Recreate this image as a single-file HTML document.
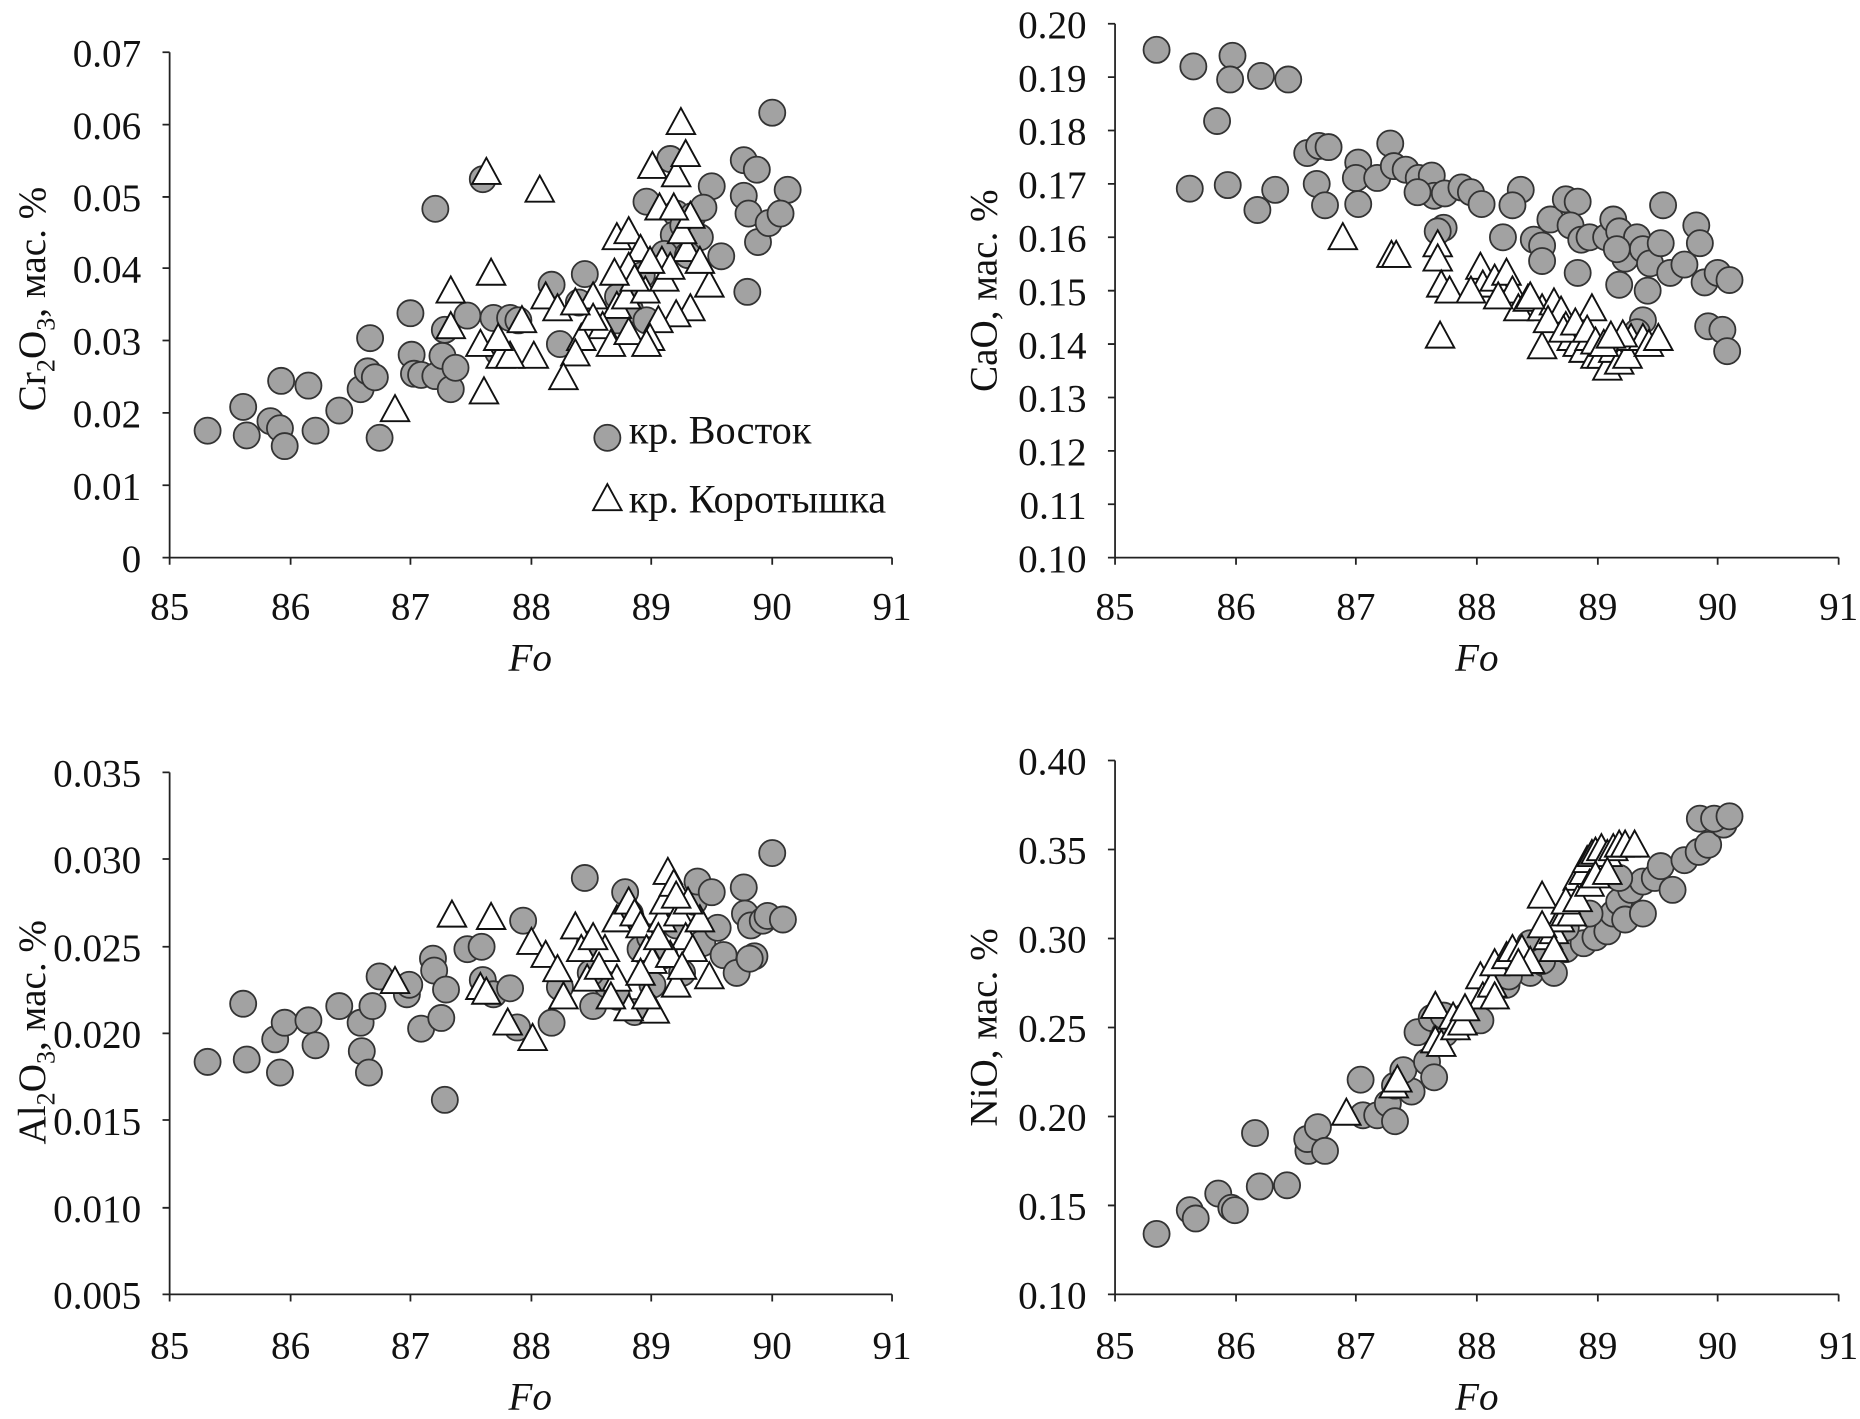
<!DOCTYPE html>
<html><head><meta charset="utf-8"><style>
html,body{margin:0;padding:0;background:#fff}
svg{display:block}
text{font-family:"Liberation Serif",serif;fill:#111}
</style></head><body>
<svg id="s" width="1860" height="1419" viewBox="0 0 1568 1196" preserveAspectRatio="none" xmlns="http://www.w3.org/2000/svg">
<g stroke="#222" stroke-width="1.5" fill="none">
<path d="M143,44V470H752M137,44H143M137,105H143M137,166H143M137,226H143M137,287H143M137,348H143M137,409H143M137,470H143M143,470V476M245,470V476M346,470V476M448,470V476M549,470V476M651,470V476M752,470V476"/>
<path d="M940,20V470H1550M934,20H940M934,65H940M934,110H940M934,155H940M934,200H940M934,245H940M934,290H940M934,335H940M934,380H940M934,425H940M934,470H940M940,470V476M1042,470V476M1143,470V476M1245,470V476M1347,470V476M1448,470V476M1550,470V476"/>
<path d="M143,651V1091H752M137,651H143M137,724H143M137,798H143M137,871H143M137,944H143M137,1018H143M137,1091H143M143,1091V1097M245,1091V1097M346,1091V1097M448,1091V1097M549,1091V1097M651,1091V1097M752,1091V1097"/>
<path d="M940,641V1091H1550M934,641H940M934,716H940M934,791H940M934,866H940M934,941H940M934,1016H940M934,1091H940M940,1091V1097M1042,1091V1097M1143,1091V1097M1245,1091V1097M1347,1091V1097M1448,1091V1097M1550,1091V1097"/>
</g>
<g font-size="33" text-anchor="end">
<text x="119" y="56">0.07</text><text x="119" y="117">0.06</text><text x="119" y="178">0.05</text><text x="119" y="238">0.04</text><text x="119" y="299">0.03</text><text x="119" y="360">0.02</text><text x="119" y="421">0.01</text><text x="119" y="482">0</text>
<text x="916" y="32">0.20</text><text x="916" y="77">0.19</text><text x="916" y="122">0.18</text><text x="916" y="167">0.17</text><text x="916" y="212">0.16</text><text x="916" y="257">0.15</text><text x="916" y="302">0.14</text><text x="916" y="347">0.13</text><text x="916" y="392">0.12</text><text x="916" y="437">0.11</text><text x="916" y="482">0.10</text>
<text x="119" y="663">0.035</text><text x="119" y="736">0.030</text><text x="119" y="810">0.025</text><text x="119" y="883">0.020</text><text x="119" y="956">0.015</text><text x="119" y="1030">0.010</text><text x="119" y="1103">0.005</text>
<text x="916" y="653">0.40</text><text x="916" y="728">0.35</text><text x="916" y="803">0.30</text><text x="916" y="878">0.25</text><text x="916" y="953">0.20</text><text x="916" y="1028">0.15</text><text x="916" y="1103">0.10</text>
</g>
<g font-size="33" text-anchor="middle">
<text x="143" y="522">85</text><text x="245" y="522">86</text><text x="346" y="522">87</text><text x="448" y="522">88</text><text x="549" y="522">89</text><text x="651" y="522">90</text><text x="752" y="522">91</text>
<text x="940" y="522">85</text><text x="1042" y="522">86</text><text x="1143" y="522">87</text><text x="1245" y="522">88</text><text x="1347" y="522">89</text><text x="1448" y="522">90</text><text x="1550" y="522">91</text>
<text x="143" y="1145">85</text><text x="245" y="1145">86</text><text x="346" y="1145">87</text><text x="448" y="1145">88</text><text x="549" y="1145">89</text><text x="651" y="1145">90</text><text x="752" y="1145">91</text>
<text x="940" y="1145">85</text><text x="1042" y="1145">86</text><text x="1143" y="1145">87</text><text x="1245" y="1145">88</text><text x="1347" y="1145">89</text><text x="1448" y="1145">90</text><text x="1550" y="1145">91</text>
<text x="447" y="565" font-style="italic">Fo</text><text x="1245" y="565" font-style="italic">Fo</text>
<text x="447" y="1188" font-style="italic">Fo</text><text x="1245" y="1188" font-style="italic">Fo</text>
<text transform="translate(38,252) rotate(-90)">Cr<tspan font-size="22" dy="8">2</tspan><tspan dy="-8">O</tspan><tspan font-size="22" dy="8">3</tspan><tspan dy="-8">, мас. %</tspan></text>
<text transform="translate(840,245) rotate(-90)">CaO, мас. %</text>
<text transform="translate(38,870) rotate(-90)">Al<tspan font-size="22" dy="8">2</tspan><tspan dy="-8">O</tspan><tspan font-size="22" dy="8">3</tspan><tspan dy="-8">, мас. %</tspan></text>
<text transform="translate(840,866) rotate(-90)">NiO, мас. %</text>
</g>
<g font-size="34">
<text x="530" y="374">кр. Восток</text>
<text x="530" y="432">кр. Коротышка</text>
</g>
<g id="pts"></g>
</svg>
<script>
var C=[[175,363],[205,343],[208,367],[228,355],[236,361],[240,376],[237,321],[260,325],[266,363],[286,346],[304,328],[310,313],[312,285],[316,318],[320,369],[347,299],[346,264],[349,315],[355,316],[367,176],[367,317],[373,300],[375,278],[380,328],[384,310],[394,266],[407,151],[416,268],[420,297],[430,268],[437,270],[465,240],[472,290],[493,231],[488,255],[531,261],[521,250],[541,232],[545,170],[565,134],[570,180],[568,198],[576,190],[584,182],[600,157],[593,175],[608,216],[627,135],[627,165],[631,180],[638,143],[639,204],[651,95],[664,160],[648,188],[630,246],[658,180],[590,200],[560,214],[545,270],[536,245],[520,270],[580,215],[512,369],
[975,42],[1006,56],[1039,47],[1037,67],[1063,64],[1086,67],[1026,102],[1003,159],[1035,156],[1060,177],[1075,160],[1102,129],[1112,123],[1120,124],[1110,155],[1117,173],[1145,137],[1143,150],[1161,150],[1172,121],[1175,140],[1185,143],[1196,150],[1207,148],[1209,165],[1195,162],[1218,163],[1232,158],[1240,162],[1249,172],[1267,200],[1282,160],[1275,173],[1293,202],[1300,207],[1307,185],[1320,168],[1330,170],[1324,190],[1333,202],[1340,200],[1354,200],[1360,185],[1365,195],[1370,218],[1380,200],[1385,210],[1389,245],[1365,240],[1363,210],[1391,222],[1400,205],[1402,173],[1408,230],[1420,223],[1430,190],[1437,238],[1433,205],[1448,230],[1458,236],[1440,275],[1452,278],[1456,296],[1385,270],[1380,280],[1330,230],[1300,220],[1217,192],[1212,195],[1145,172],
[175,895],[205,846],[208,893],[232,876],[236,904],[240,862],[260,860],[266,881],[286,848],[304,862],[305,886],[311,904],[314,848],[320,823],[343,838],[345,830],[355,867],[365,808],[366,818],[372,858],[375,927],[376,834],[394,800],[406,798],[407,826],[416,838],[430,833],[436,866],[441,776],[465,862],[472,832],[493,740],[497,796],[500,848],[512,830],[527,752],[531,770],[540,800],[548,790],[560,805],[565,775],[570,780],[585,760],[588,743],[592,795],[600,752],[605,782],[610,805],[627,748],[628,770],[633,780],[636,806],[643,776],[647,772],[651,719],[660,775],[621,820],[632,808],[535,853],[498,820],[520,840],[550,830],[575,820],
[975,1040],[1003,1020],[1008,1027],[1027,1006],[1038,1018],[1041,1020],[1062,1000],[1085,999],[1058,955],[1103,970],[1102,960],[1111,950],[1117,970],[1147,910],[1149,940],[1161,940],[1170,930],[1176,915],[1190,920],[1183,902],[1176,945],[1195,870],[1203,895],[1207,858],[1209,908],[1218,871],[1230,865],[1235,857],[1248,860],[1257,835],[1270,830],[1276,815],[1282,815],[1290,820],[1302,812],[1310,820],[1320,800],[1335,795],[1345,790],[1355,785],[1360,770],[1365,760],[1375,750],[1385,743],[1395,740],[1400,730],[1410,750],[1420,725],[1432,718],[1440,712],[1453,695],[1433,690],[1445,690],[1458,688],[1272,823],[1290,795],[1340,770],[1370,775],[1385,770],[1300,810],[1217,856],[1320,782],[1365,740]];
var T=[[410,145],[455,160],[414,230],[380,245],[380,275],[405,290],[422,300],[333,345],[408,330],[550,140],[574,103],[570,147],[578,130],[556,175],[558,220],[579,210],[598,240],[582,260],[570,265],[555,270],[548,285],[520,258],[508,275],[490,285],[485,298],[475,318],[460,250],[450,300],[430,300],[420,285],[440,270],[470,260],[500,250],[520,200],[530,195],[540,210],[530,225],[528,250],[544,245],[560,235],[565,225],[575,195],[582,182],[568,175],[590,220],[548,220],[535,235],[500,268],[515,290],[530,280],[545,290],[518,230],[485,255],[512,420],
[1132,200],[1173,215],[1177,215],[1212,206],[1212,218],[1215,240],[1214,283],[1222,245],[1248,225],[1250,240],[1260,235],[1270,230],[1275,245],[1280,260],[1288,252],[1300,260],[1300,292],[1310,255],[1316,262],[1320,275],[1325,285],[1330,290],[1335,295],[1340,285],[1342,260],[1345,300],[1350,300],[1355,310],[1360,295],[1365,305],[1372,300],[1375,285],[1385,285],[1390,290],[1398,285],[1290,250],[1305,270],[1318,278],[1328,272],[1338,278],[1345,288],[1352,290],[1368,282],[1358,283],[1240,245],[1263,250],
[333,827],[381,771],[414,773],[405,832],[410,836],[428,862],[449,875],[448,794],[460,805],[470,817],[485,781],[490,800],[495,825],[510,800],[520,775],[530,760],[535,770],[540,780],[545,800],[550,810],[558,775],[560,760],[563,735],[568,745],[572,770],[578,790],[584,800],[590,775],[598,823],[570,830],[552,852],[530,850],[520,825],[505,815],[500,790],[515,840],[545,840],[565,805],[575,815],[555,790],[540,820],[580,760],[570,755],[475,840],
[1135,938],[1175,915],[1178,910],[1210,848],[1210,877],[1215,880],[1225,857],[1227,866],[1233,862],[1248,823],[1250,840],[1258,830],[1260,812],[1270,806],[1275,800],[1283,800],[1300,755],[1305,790],[1310,785],[1315,775],[1320,770],[1325,770],[1330,740],[1335,735],[1338,725],[1342,720],[1345,718],[1350,715],[1355,720],[1360,715],[1365,712],[1370,712],[1378,712],[1300,780],[1310,800],[1320,760],[1330,758],[1340,745],[1345,738],[1355,735],[1290,810],[1280,812],[1235,850],[1260,840]];
var s='';
C.forEach(function(p){s+='<circle cx="'+p[0]+'" cy="'+p[1]+'" r="11" fill="#a2a2a2" stroke="#333" stroke-width="1.5"/>';});
T.forEach(function(p){var x=p[0],y=p[1];s+='<path d="M'+x+','+(y-12)+'L'+(x+12)+','+(y+10)+'L'+(x-12)+','+(y+10)+'Z" fill="#fff" stroke="#111" stroke-width="1.6"/>';});
document.getElementById('pts').innerHTML=s;
</script>
</body></html>
